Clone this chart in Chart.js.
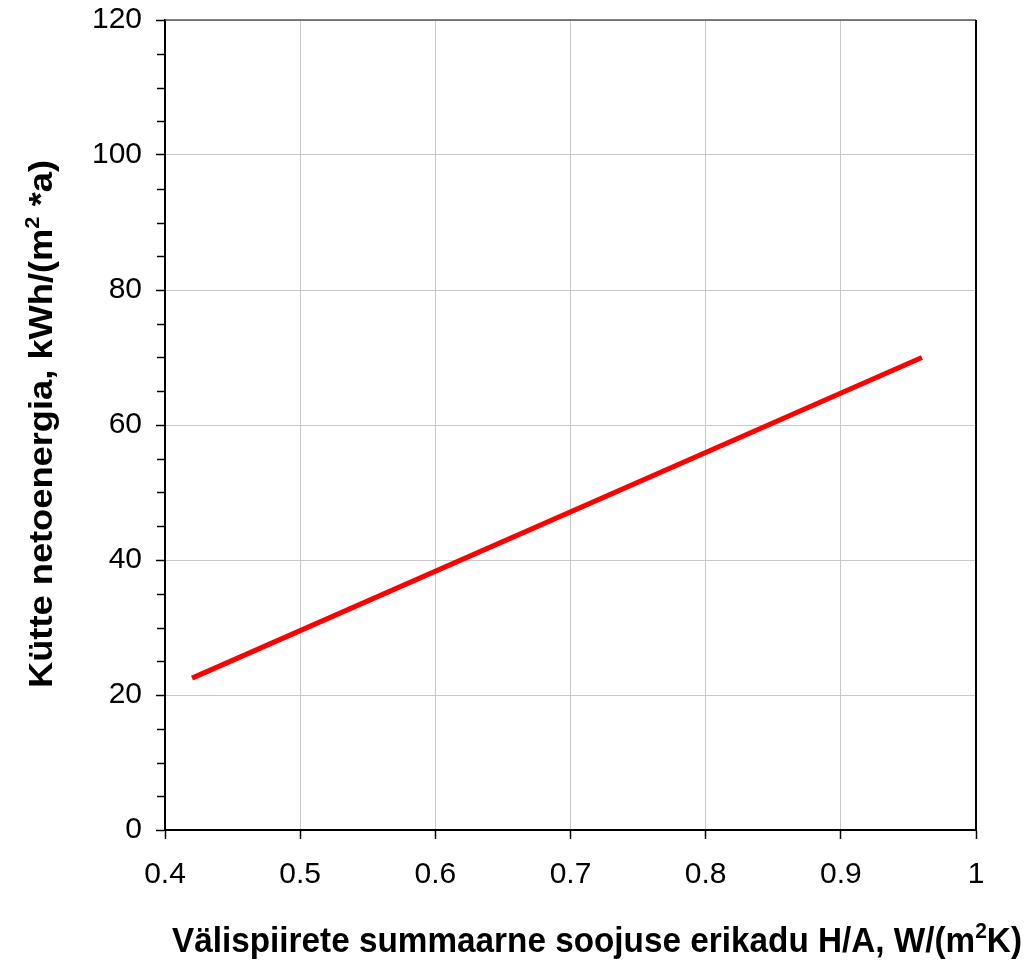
<!DOCTYPE html>
<html>
<head>
<meta charset="utf-8">
<script src="https://cdn.jsdelivr.net/npm/chart.js@4.4.0/dist/chart.umd.min.js"></script>
<style>
  body { margin: 0; background: #fff; }
  #wrap { width: 1026px; height: 960px; }
</style>
</head>
<body>
<div id="wrap"><canvas id="chart" width="1026" height="960"></canvas></div>
<script>
// data
const haValues = [0.42, 0.96];
const energyValues = [22.5, 70];
const xTickValues = [0.4, 0.5, 0.6, 0.7, 0.8, 0.9, 1];
const yTickValues = [0, 20, 40, 60, 80, 100, 120];
const yMinorStep = 5;

const xTitle = ['Välispiirete summaarne soojuse erikadu H/A, W/(m', '2', 'K)'];
const yTitle = ['Kütte netoenergia, kWh/(m', '2', ' *a)'];

const points = haValues.map((x, i) => ({ x: x, y: energyValues[i] }));

// draws a title with a raised "2", squeezed to a given width
function drawTitle(ctx, parts, targetWidth, size) {
  const big = 'bold ' + size + 'px "Liberation Sans", Arial, sans-serif';
  const small = 'bold ' + Math.round(size * 0.62) + 'px "Liberation Sans", Arial, sans-serif';
  ctx.font = big;
  const w0 = ctx.measureText(parts[0]).width;
  const w2 = ctx.measureText(parts[2]).width;
  ctx.font = small;
  const w1 = ctx.measureText(parts[1]).width;
  const sx = targetWidth / (w0 + w1 + w2);
  ctx.scale(sx, 1);
  ctx.fillStyle = '#000';
  ctx.textBaseline = 'alphabetic';
  ctx.textAlign = 'left';
  ctx.font = big;
  ctx.fillText(parts[0], 0, 0);
  ctx.font = small;
  ctx.fillText(parts[1], w0, -Math.round(size * 0.4));
  ctx.font = big;
  ctx.fillText(parts[2], w0 + w1, 0);
}

const extras = {
  id: 'extras',
  afterDraw(chart) {
    const ctx = chart.ctx;
    const ys = chart.scales.y;
    const area = chart.chartArea;
    ctx.save();
    // minor ticks on y axis
    ctx.strokeStyle = '#000';
    ctx.lineWidth = 1.5;
    for (let v = ys.min; v <= ys.max; v += yMinorStep) {
      if (yTickValues.includes(v)) continue;
      const py = Math.round(ys.getPixelForValue(v)) + 0.5;
      ctx.beginPath();
      ctx.moveTo(area.left - 8, py);
      ctx.lineTo(area.left, py);
      ctx.stroke();
    }
    // frame: top and right
    ctx.lineWidth = 1.5;
    ctx.strokeStyle = '#555';
    ctx.beginPath();
    ctx.moveTo(area.left, area.top);
    ctx.lineTo(area.right, area.top);
    ctx.stroke();
    ctx.strokeStyle = '#000';
    ctx.lineWidth = 2;
    ctx.beginPath();
    ctx.moveTo(area.right, area.top);
    ctx.lineTo(area.right, area.bottom);
    ctx.stroke();
    ctx.restore();

    // axis titles
    ctx.save();
    ctx.translate(172, 952);
    drawTitle(ctx, xTitle, 850, 35);
    ctx.restore();

    ctx.save();
    ctx.translate(52, 688);
    ctx.rotate(-Math.PI / 2);
    drawTitle(ctx, yTitle, 528, 33);
    ctx.restore();
  }
};

const tickFont = { family: '"Liberation Sans", Arial, sans-serif', size: 30 };

new Chart(document.getElementById('chart'), {
  type: 'scatter',
  data: {
    datasets: [{
      data: points,
      showLine: true,
      borderColor: '#ff0000',
      borderWidth: 5,
      pointRadius: 0,
      borderCapStyle: 'butt'
    }]
  },
  options: {
    responsive: false,
    animation: false,
    layout: { padding: { top: 20, right: 50, left: 0, bottom: 0 } },
    plugins: { legend: { display: false }, tooltip: { enabled: false } },
    scales: {
      x: {
        type: 'linear',
        min: xTickValues[0],
        max: xTickValues[xTickValues.length - 1],
        afterBuildTicks: (s) => { s.ticks = xTickValues.map(v => ({ value: v })); },
        afterFit: (s) => { s.height = 130; s.paddingLeft = 0; s.paddingRight = 0; },
        ticks: { font: tickFont, color: '#000', padding: 18, maxRotation: 0, callback: (v) => String(v) },
        grid: { color: '#c8c8c8', lineWidth: 1, tickColor: '#000', tickLength: 9, tickWidth: 1.5 },
        border: { color: '#000', width: 2 }
      },
      y: {
        min: yTickValues[0],
        max: yTickValues[yTickValues.length - 1],
        afterBuildTicks: (s) => { s.ticks = yTickValues.map(v => ({ value: v })); },
        afterFit: (s) => { s.width = 165; s.paddingTop = 0; s.paddingBottom = 0; },
        ticks: { font: tickFont, color: '#000', padding: 14 },
        grid: { color: '#c8c8c8', lineWidth: 1, tickColor: '#000', tickLength: 9, tickWidth: 1.5 },
        border: { color: '#000', width: 2 }
      }
    }
  },
  plugins: [extras]
});
</script>
</body>
</html>
